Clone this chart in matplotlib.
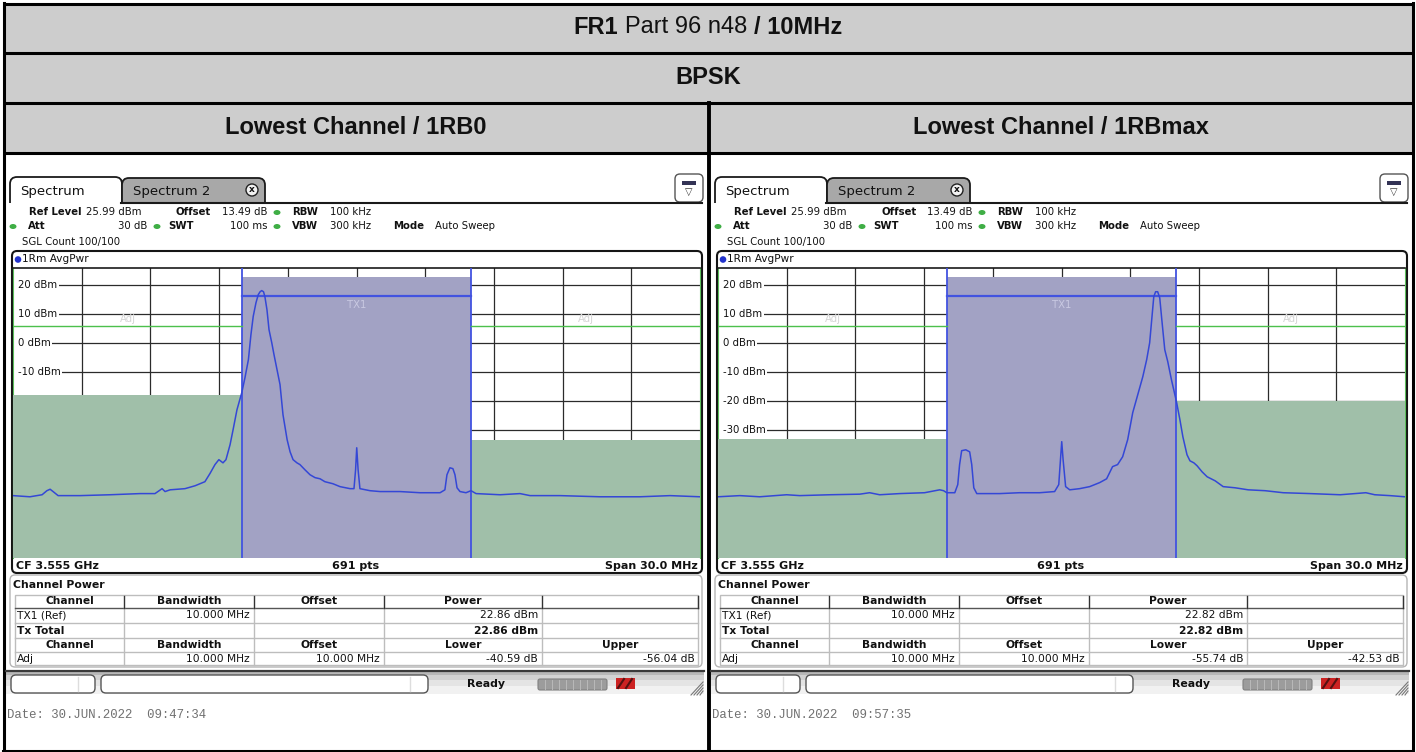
import numpy as np
import matplotlib
matplotlib.use('Agg')
import matplotlib.pyplot as plt
from matplotlib.patches import Rectangle, FancyBboxPatch, Circle, Ellipse

W, H = 1416, 752

# ---- texts / settings ----
title_parts = [('FR1', 'bold'), ('Part 96 n48', 'normal'), ('/ 10MHz', 'bold')]
modulation = 'BPSK'
panel_titles = ['Lowest Channel / 1RB0', 'Lowest Channel / 1RBmax']
dates = ['Date: 30.JUN.2022  09:47:34', 'Date: 30.JUN.2022  09:57:35']

ref_level = 25.99
span_mhz = 30.0
tx_bw = 10.0
adj_offset = 10.0
limit_level = 6.1
tx_line_level = 16.2
db_labels = [20, 10, 0, -10, -20, -30, -40, -50, -60, -70]

tx_power = [22.86, 22.82]
adj_lower = [-40.59, -55.74]
adj_upper = [-56.04, -42.53]

# ---- traces (MHz offset from CF, dBm) ----
f_left = [-15.00, -14.26, -13.73, -13.52, -13.38, -13.25, -13.03, -12.07, -10.76, -9.45,
          -8.80, -8.49, -8.36, -8.14, -7.49, -7.05, -6.62, -6.40, -6.18, -6.01,
          -5.83, -5.70, -5.52, -5.39, -5.22, -5.01, -4.87, -4.72, -4.61, -4.51,
          -4.39, -4.29, -4.21, -4.14, -4.06, -4.00, -3.91, -3.82, -3.70, -3.60,
          -3.47, -3.34, -3.21, -3.03, -2.90, -2.77, -2.60, -2.47, -2.25, -2.03,
          -1.81, -1.59, -1.38, -1.03, -0.72, -0.28, -0.11, -0.04, 0.01, 0.07,
          0.15, 0.59, 1.03, 1.90, 2.77, 3.65, 3.86, 3.95, 4.08, 4.21,
          4.30, 4.39, 4.52, 4.78, 5.00, 5.22, 6.27, 7.14, 7.58, 8.89,
          10.63, 12.38, 13.69, 15.00]
p_left = [-52.5, -52.9, -52.2, -50.8, -50.3, -51.1, -52.5, -52.5, -52.2, -51.8,
          -51.8, -50.1, -51.1, -50.5, -50.1, -49.1, -47.7, -44.9, -41.8, -40.1,
          -41.2, -40.1, -34.9, -29.8, -22.9, -17.0, -11.8, -5.6, 3.0, 9.3,
          14.0, 16.8, 17.8, 18.2, 17.8, 16.1, 11.6, 4.7, 0.2, -4.0,
          -9.1, -14.2, -24.6, -33.2, -37.4, -40.1, -41.2, -41.8, -43.6, -45.3,
          -46.3, -46.7, -47.7, -48.4, -49.4, -50.1, -50.1, -43.6, -36.0, -43.6,
          -50.1, -50.8, -51.1, -51.1, -51.5, -51.5, -50.5, -45.3, -42.9, -43.2,
          -45.3, -49.8, -51.1, -51.5, -50.8, -51.8, -52.2, -51.8, -52.5, -52.5,
          -52.9, -52.9, -52.5, -52.9]

f_right = [-15.00, -14.05, -13.18, -12.00, -11.43, -10.12, -8.81, -8.38, -7.94, -7.07,
           -5.98, -5.32, -5.15, -5.01, -4.66, -4.53, -4.45, -4.36, -4.18, -4.01,
           -3.92, -3.83, -3.70, -2.70, -1.83, -0.95, -0.30, -0.12, -0.03, 0.01,
           0.07, 0.18, 0.36, 0.79, 1.23, 1.67, 1.97, 2.23, 2.45, 2.67,
           2.89, 3.11, 3.33, 3.55, 3.72, 3.85, 3.94, 4.03, 4.11, 4.20,
           4.29, 4.38, 4.51, 4.64, 4.80, 5.02, 5.17, 5.30, 5.48, 5.61,
           5.78, 5.92, 6.14, 6.36, 6.71, 7.06, 7.58, 8.15, 8.89, 9.68,
           10.86, 12.17, 13.29, 13.68, 14.34, 15.00]
p_right = [-52.9, -52.5, -52.9, -52.2, -52.5, -52.2, -52.0, -51.5, -52.2, -51.8,
           -51.5, -50.5, -50.8, -51.5, -51.5, -48.7, -41.8, -37.0, -36.7, -37.4,
           -41.8, -49.8, -51.8, -51.8, -51.5, -51.5, -51.1, -48.7, -38.4, -33.9,
           -40.1, -49.4, -50.5, -50.1, -49.4, -48.0, -46.7, -42.5, -41.8, -39.1,
           -33.2, -23.9, -17.7, -11.5, -5.6, 0.2, 8.2, 16.1, 17.8, 17.8,
           15.7, 8.2, -2.2, -6.3, -12.5, -20.1, -26.3, -32.2, -38.4, -40.5,
           -41.2, -42.2, -44.3, -46.0, -47.4, -49.4, -49.8, -50.5, -50.8, -51.5,
           -51.8, -52.2, -51.5, -52.2, -52.5, -52.9]

traces = [(f_left, p_left), (f_right, p_right)]

# colours
head_gray = '#cdcdcd'
tx_col = '#a2a2c4'
adj_col = '#a0bfa9'
trace_col = '#3447d6'
edge_blue = '#4253e0'
grid_col = '#2b2b2b'

fig = plt.figure(figsize=(W / 100, H / 100), dpi=100)
bg = fig.add_axes([0, 0, 1, 1])
bg.set_xlim(0, W)
bg.set_ylim(H, 0)
bg.axis('off')
R = fig.canvas.get_renderer()

ui = 'DejaVu Sans'
doc = 'Liberation Sans'


def px_axes(x, y, w, h):
    return fig.add_axes([x / W, 1 - (y + h) / H, w / W, h / H])


def txt(x, y, s, size=7.3, weight='normal', ha='left', color='#111111', family=ui, **kw):
    return bg.text(x, y, s, fontsize=size, fontweight=weight, ha=ha, va='center',
                   color=color, family=family, **kw)


def green_dot(x, y):
    bg.add_patch(Ellipse((x, y), 7, 5, fc='#3fae45', ec='none'))


# ---- document table ----
bg.add_patch(Rectangle((3, 3), 1410, 150, fc=head_gray, ec='none'))
for y in [3.5, 53, 103, 153]:
    bg.plot([3, 1413], [y, y], color='black', lw=2.2, solid_capstyle='butt')
bg.plot([3, 1413], [750.5, 750.5], color='black', lw=2.2)
for x in [3.5, 1412.5]:
    bg.plot([x, x], [2.5, 751], color='black', lw=2.2)
bg.plot([708.5, 708.5], [103, 751], color='black', lw=2.8)

# mixed weight title
pieces = [txt(0, 27, s, size=17, weight=w, family=doc) for s, w in title_parts]
gap = 17 * 0.278 * 100 / 72
widths = [p.get_window_extent(R).width for p in pieces]
x0 = 708 - (sum(widths) + gap * (len(widths) - 1)) / 2
for p, wd in zip(pieces, widths):
    p.set_x(x0)
    x0 += wd + gap
txt(708, 78, modulation, size=17, weight='bold', ha='center', family=doc)
for k, t in enumerate(panel_titles):
    txt(356 + 705 * k, 128, t, size=17, weight='bold', ha='center', family=doc)


def chrome(ox, k):
    # tabs
    bg.add_patch(FancyBboxPatch((ox + 10, 177), 112, 40, boxstyle='round,pad=0,rounding_size=7',
                                fc='white', ec='#1a1a1a', lw=1.3))
    bg.add_patch(FancyBboxPatch((ox + 122, 178), 143, 40, boxstyle='round,pad=0,rounding_size=7',
                                fc='#a8a8a8', ec='#1a1a1a', lw=1.3))
    bg.add_patch(Rectangle((ox + 8, 203), 697, 45, fc='white', ec='none'))
    bg.plot([ox + 121, ox + 702], [202.5, 202.5], color='#1a1a1a', lw=1.5)
    txt(ox + 20, 191, 'Spectrum', size=9.5)
    txt(ox + 133, 191, 'Spectrum 2', size=9.5)
    bg.add_patch(Circle((ox + 252, 190), 6, fc='#f2f2f2', ec='#222222', lw=1))
    txt(ox + 252, 190, 'x', size=6.5, weight='bold', ha='center')
    bg.add_patch(FancyBboxPatch((ox + 675, 174), 28, 28, boxstyle='round,pad=0,rounding_size=5',
                                fc='white', ec='#555555', lw=1))
    bg.add_patch(Rectangle((ox + 682, 181), 14, 4, fc='#333355', ec='none'))
    txt(ox + 689, 192, '\u25bd', size=7, ha='center', color='#333333')

    # setting lines
    for x, s, w in [(29, 'Ref Level', 'bold'), (86, '25.99 dBm', 'normal'),
                    (176, 'Offset', 'bold'), (222, '13.49 dB', 'normal'),
                    (292, 'RBW', 'bold'), (330, '100 kHz', 'normal')]:
        txt(ox + x, 212, s, weight=w)
    green_dot(ox + 277, 212.5)
    for x, s, w in [(28, 'Att', 'bold'), (168, 'SWT', 'bold'), (230, '100 ms', 'normal'),
                    (292, 'VBW', 'bold'), (330, '300 kHz', 'normal'),
                    (393, 'Mode', 'bold'), (435, 'Auto Sweep', 'normal')]:
        txt(ox + x, 226, s, weight=w)
    txt(ox + 147, 226, '30 dB', ha='right')
    for x in [13, 157, 277]:
        green_dot(ox + x, 226.5)
    txt(ox + 22, 242, 'SGL Count 100/100')

    # diagram frame
    bg.add_patch(FancyBboxPatch((ox + 12, 251), 690, 322, boxstyle='round,pad=0,rounding_size=5',
                                fc='white', ec='#151515', lw=1.5))
    bg.add_patch(Circle((ox + 18, 259.5), 3.3, fc='#2233cc', ec='none'))
    txt(ox + 22, 259.5, '1Rm AvgPwr', size=7.6)
    txt(ox + 16, 566, 'CF 3.555 GHz', size=8, weight='bold')
    txt(ox + 356, 566, '691 pts', size=8, weight='bold', ha='center')
    txt(ox + 698, 566, 'Span 30.0 MHz', size=8, weight='bold', ha='right')

    # channel power table
    bg.add_patch(FancyBboxPatch((ox + 10, 575), 692, 92, boxstyle='round,pad=0,rounding_size=5',
                                fc='white', ec='#b5b5b5', lw=1))
    txt(ox + 13, 585, 'Channel Power', size=7.8, weight='bold')
    cols = [15, 124, 254, 384, 542, 698]
    light = '#bdbdbd'
    bg.add_patch(Rectangle((ox + 15, 595), 683, 70, fc='none', ec=light, lw=1))
    for y in [623, 638, 652]:
        bg.plot([ox + 15, ox + 698], [y, y], color=light, lw=1)
    bg.plot([ox + 15, ox + 698], [608, 608], color='#555555', lw=1)
    for x in cols[1:-1]:
        bg.plot([ox + x, ox + x], [608, 665], color=light, lw=1)
        bg.plot([ox + x, ox + x], [596, 608], color='#333333', lw=1)
    bg.plot([ox + 698, ox + 698], [596, 608], color='#333333', lw=1)
    hy1, hy2 = 601.5, 645
    for c, s in zip([70, 189, 319, 463], ['Channel', 'Bandwidth', 'Offset', 'Power']):
        txt(ox + c, hy1, s, size=7.7, weight='bold', ha='center')
    for c, s in zip([70, 189, 319, 463, 620], ['Channel', 'Bandwidth', 'Offset', 'Lower', 'Upper']):
        txt(ox + c, hy2, s, size=7.7, weight='bold', ha='center')
    txt(ox + 17, 615.5, 'TX1 (Ref)', size=7.7)
    txt(ox + 250, 615.5, '10.000 MHz', size=7.7, ha='right')
    txt(ox + 538, 615.5, f'{tx_power[k]:.2f} dBm', size=7.7, ha='right')
    txt(ox + 17, 630.5, 'Tx Total', size=7.7, weight='bold')
    txt(ox + 538, 630.5, f'{tx_power[k]:.2f} dBm', size=7.7, weight='bold', ha='right')
    txt(ox + 17, 658.5, 'Adj', size=7.7)
    txt(ox + 250, 658.5, '10.000 MHz', size=7.7, ha='right')
    txt(ox + 380, 658.5, '10.000 MHz', size=7.7, ha='right')
    txt(ox + 538, 658.5, f'{adj_lower[k]:.2f} dB', size=7.7, ha='right')
    txt(ox + 695, 658.5, f'{adj_upper[k]:.2f} dB', size=7.7, ha='right')

    # status bar
    for y0, hh, c in [(671, 4, '#b8b8b8'), (675, 5, '#d2d2d2'), (680, 6, '#e4e4e4'), (686, 8, '#f1f1f1')]:
        bg.add_patch(Rectangle((ox + 6, y0), 698, hh, fc=c, ec='none'))
    bg.plot([ox + 6, ox + 704], [670.5, 670.5], color='#3a3a3a', lw=1.6)
    bg.add_patch(FancyBboxPatch((ox + 11, 675), 84, 18, boxstyle='round,pad=0,rounding_size=5',
                                fc='white', ec='#555555', lw=1))
    bg.add_patch(FancyBboxPatch((ox + 101, 675), 327, 18, boxstyle='round,pad=0,rounding_size=5',
                                fc='white', ec='#555555', lw=1))
    bg.plot([ox + 78, ox + 78], [677, 691], color='#dddddd', lw=1)
    bg.plot([ox + 410, ox + 410], [677, 691], color='#dddddd', lw=1)
    txt(ox + 467, 684, 'Ready', size=7.8, weight='bold')
    bg.add_patch(FancyBboxPatch((ox + 538, 679), 69, 11, boxstyle='round,pad=0,rounding_size=2',
                                fc='#9c9c9c', ec='#808080', lw=0.8))
    for i in range(1, 10):
        bg.plot([ox + 538 + 7 * i, ox + 538 + 7 * i], [680, 689], color='#b9b9b9', lw=0.7)
    bg.add_patch(Rectangle((ox + 616, 678), 19, 11, fc='#cc2222', ec='none'))
    bg.plot([ox + 618, ox + 624], [688, 679], color='#551111', lw=1.5)
    bg.plot([ox + 626, ox + 632], [688, 679], color='#551111', lw=1.5)
    for i in range(4):
        bg.plot([ox + 703, ox + 691 + 3 * i], [682 + 3 * i, 695], color='#777777', lw=0.8)

    # date line
    txt(ox + 7, 715.5, dates[k], size=8.9, color='#707070', family='Liberation Mono')


def spectrum(ox, k):
    freqs, levels = traces[k]
    ax = px_axes(ox + 13, 268, 687, 290)
    bottom = ref_level - 100
    ax.set_xlim(-span_mhz / 2, span_mhz / 2)
    ax.set_ylim(bottom, ref_level)
    ax.set_xticks([])
    ax.set_yticks([])
    for g in np.arange(-12, 13, 3):
        ax.axvline(g, color=grid_col, lw=0.9, zorder=1)
    for lv in db_labels:
        ax.axhline(lv, color=grid_col, lw=0.9, zorder=1)
        # keep the left end of the grid line clear, as the analyzer does
        ax.add_patch(Rectangle((-span_mhz / 2, lv - 1.0), 0.3, 2.0, fc='white', ec='none', zorder=1.5))
        ax.text(-14.76, lv, f'{lv} dBm', ha='left', va='center', fontsize=7.3, family=ui,
                color='#111111', zorder=2, bbox=dict(fc='white', ec='none', pad=0.8))
    # channel bars
    ax.add_patch(Rectangle((-tx_bw / 2, bottom), tx_bw, tx_power[k] - bottom,
                           fc=tx_col, ec='none', zorder=3))
    lo = tx_power[k] + adj_lower[k]
    up = tx_power[k] + adj_upper[k]
    ax.add_patch(Rectangle((-adj_offset - tx_bw / 2, bottom), tx_bw, lo - bottom,
                           fc=adj_col, ec='none', zorder=3))
    ax.add_patch(Rectangle((adj_offset - tx_bw / 2, bottom), tx_bw, up - bottom,
                           fc=adj_col, ec='none', zorder=3))
    for e in [-tx_bw / 2, tx_bw / 2]:
        ax.axvline(e, color=edge_blue, lw=1.3, zorder=4)
    ax.plot([-tx_bw / 2, tx_bw / 2], [tx_line_level, tx_line_level], color=edge_blue, lw=1.6, zorder=4)
    for a, b in [(-span_mhz / 2, -tx_bw / 2), (tx_bw / 2, span_mhz / 2)]:
        ax.plot([a, b], [limit_level, limit_level], color='#4cc04c', lw=1, zorder=4)
    ax.text(-adj_offset, 8.3, 'Adj', ha='center', va='center', fontsize=7.3, color='#d5d5d5', zorder=4)
    ax.text(adj_offset, 8.3, 'Adj', ha='center', va='center', fontsize=7.3, color='#d5d5d5', zorder=4)
    ax.text(0, 13.4, 'TX1', ha='center', va='center', fontsize=7.3, color='#c9c9e2', zorder=4)
    ax.plot(freqs, levels, color=trace_col, lw=1.1, zorder=5)
    ax.spines['top'].set_color('#1a1a1a')
    ax.spines['top'].set_linewidth(1.2)
    ax.spines['bottom'].set_visible(False)
    ax.spines['left'].set_color('#5cbf5c')
    ax.spines['right'].set_color('#5cbf5c')


for k in range(2):
    ox = 705 * k
    chrome(ox, k)
    spectrum(ox, k)

fig.savefig('out.png', dpi=100)
